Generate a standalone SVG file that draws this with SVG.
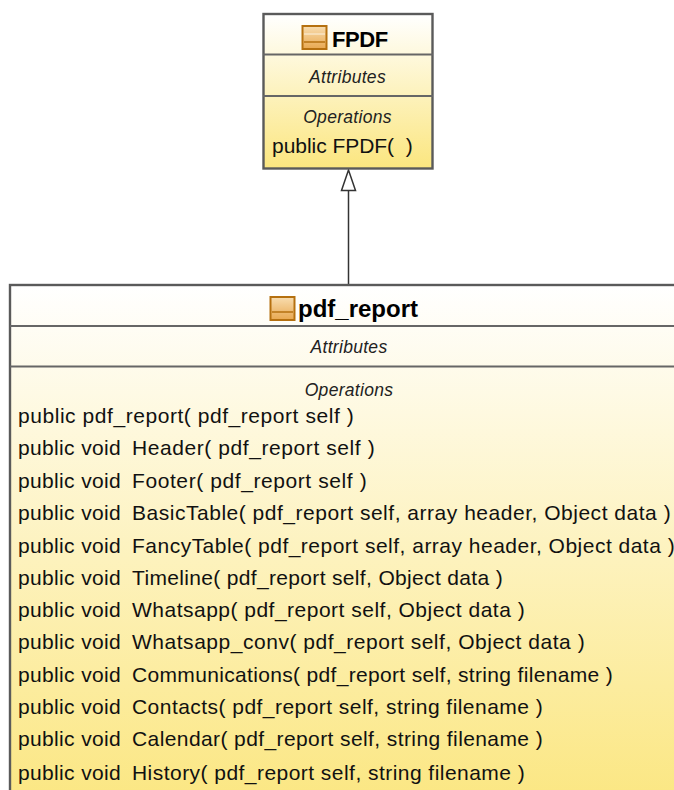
<svg xmlns="http://www.w3.org/2000/svg" width="674" height="790" viewBox="0 0 674 790">
<style>
text{font-family:"Liberation Sans",Arial,sans-serif;fill:#111;white-space:pre}
.m{font-size:21px;letter-spacing:.35px}
.i{font-size:17.5px;font-style:italic;text-anchor:middle;fill:#222;letter-spacing:.3px}
.t{font-size:24px;font-weight:bold;fill:#000}
.d{stroke:#666;stroke-width:2;fill:none}
.b{stroke:#5a5a5a;stroke-width:2.4}
</style>
<defs>
<linearGradient id="g1" x1="0" y1="0" x2="0" y2="1"><stop offset="0" stop-color="#FFFFFF"/><stop offset="1" stop-color="#FBE67F"/></linearGradient>
<linearGradient id="ig" x1="0" y1="0" x2="0" y2="1"><stop offset="0" stop-color="#F8DDB0"/><stop offset="1" stop-color="#E8A850"/></linearGradient>
</defs>
<g id="connectors">
<line x1="348.500" y1="190" x2="348.500" y2="285" stroke="#333" stroke-width="1.500"/>
<path d="M348.500 170 L341.500 190.500 H355.500 Z" fill="#fff" stroke="#333" stroke-width="1.500"/>
</g>
<g id="FPDF">
<rect class="b" x="263.500" y="14" width="169" height="154.500" fill="url(#g1)"/>
<line class="d" x1="263" y1="54.500" x2="433" y2="54.500"/>
<line class="d" x1="263" y1="96" x2="433" y2="96"/>
<rect x="302.500" y="26" width="24" height="23" fill="url(#ig)" stroke="#B5700F" stroke-width="2"/>
<line x1="304" y1="34" x2="325" y2="34" stroke="#F8E4C4" stroke-width="1.500"/>
<line x1="304" y1="42" x2="325" y2="42" stroke="#B5700F" stroke-width="1.500"/>
<text class="t" x="332" y="47" style="font-size:22px;letter-spacing:-.4px">FPDF</text>
<text class="i" x="347.500" y="83">Attributes</text>
<text class="i" x="347.500" y="123">Operations</text>
<text class="m" x="272" y="153" textLength="141">public FPDF(  )</text>
</g>
<g id="pdf_report">
<rect class="b" x="10" y="285" width="680" height="530" fill="url(#g1)"/>
<line class="d" x1="10" y1="326" x2="674" y2="326"/>
<line class="d" x1="10" y1="366.500" x2="674" y2="366.500"/>
<rect x="270.500" y="297" width="24" height="23" fill="url(#ig)" stroke="#B5700F" stroke-width="2"/>
<line x1="272" y1="312" x2="293" y2="312" stroke="#B5700F" stroke-width="1.500"/>
<text class="t" x="298" y="317">pdf_report</text>
<text class="i" x="349" y="353">Attributes</text>
<text class="i" x="349" y="396">Operations</text>
<text class="m" x="18" y="423" textLength="336">public pdf_report( pdf_report self )</text>
<text class="m" x="18" y="455">public void<tspan x="132" textLength="243">Header( pdf_report self )</tspan></text>
<text class="m" x="18" y="487.500">public void<tspan x="132" textLength="235">Footer( pdf_report self )</tspan></text>
<text class="m" x="18" y="519.500">public void<tspan x="132" textLength="539">BasicTable( pdf_report self, array header, Object data )</tspan></text>
<text class="m" x="18" y="552.500">public void<tspan x="132" textLength="543">FancyTable( pdf_report self, array header, Object data )</tspan></text>
<text class="m" x="18" y="585">public void<tspan x="132" textLength="371">Timeline( pdf_report self, Object data )</tspan></text>
<text class="m" x="18" y="617">public void<tspan x="132" textLength="393">Whatsapp( pdf_report self, Object data )</tspan></text>
<text class="m" x="18" y="649">public void<tspan x="132" textLength="453">Whatsapp_conv( pdf_report self, Object data )</tspan></text>
<text class="m" x="18" y="681.500">public void<tspan x="132" textLength="481">Communications( pdf_report self, string filename )</tspan></text>
<text class="m" x="18" y="714">public void<tspan x="132" textLength="411">Contacts( pdf_report self, string filename )</tspan></text>
<text class="m" x="18" y="746">public void<tspan x="132" textLength="411">Calendar( pdf_report self, string filename )</tspan></text>
<text class="m" x="18" y="780">public void<tspan x="132" textLength="393">History( pdf_report self, string filename )</tspan></text>
</g>
</svg>
